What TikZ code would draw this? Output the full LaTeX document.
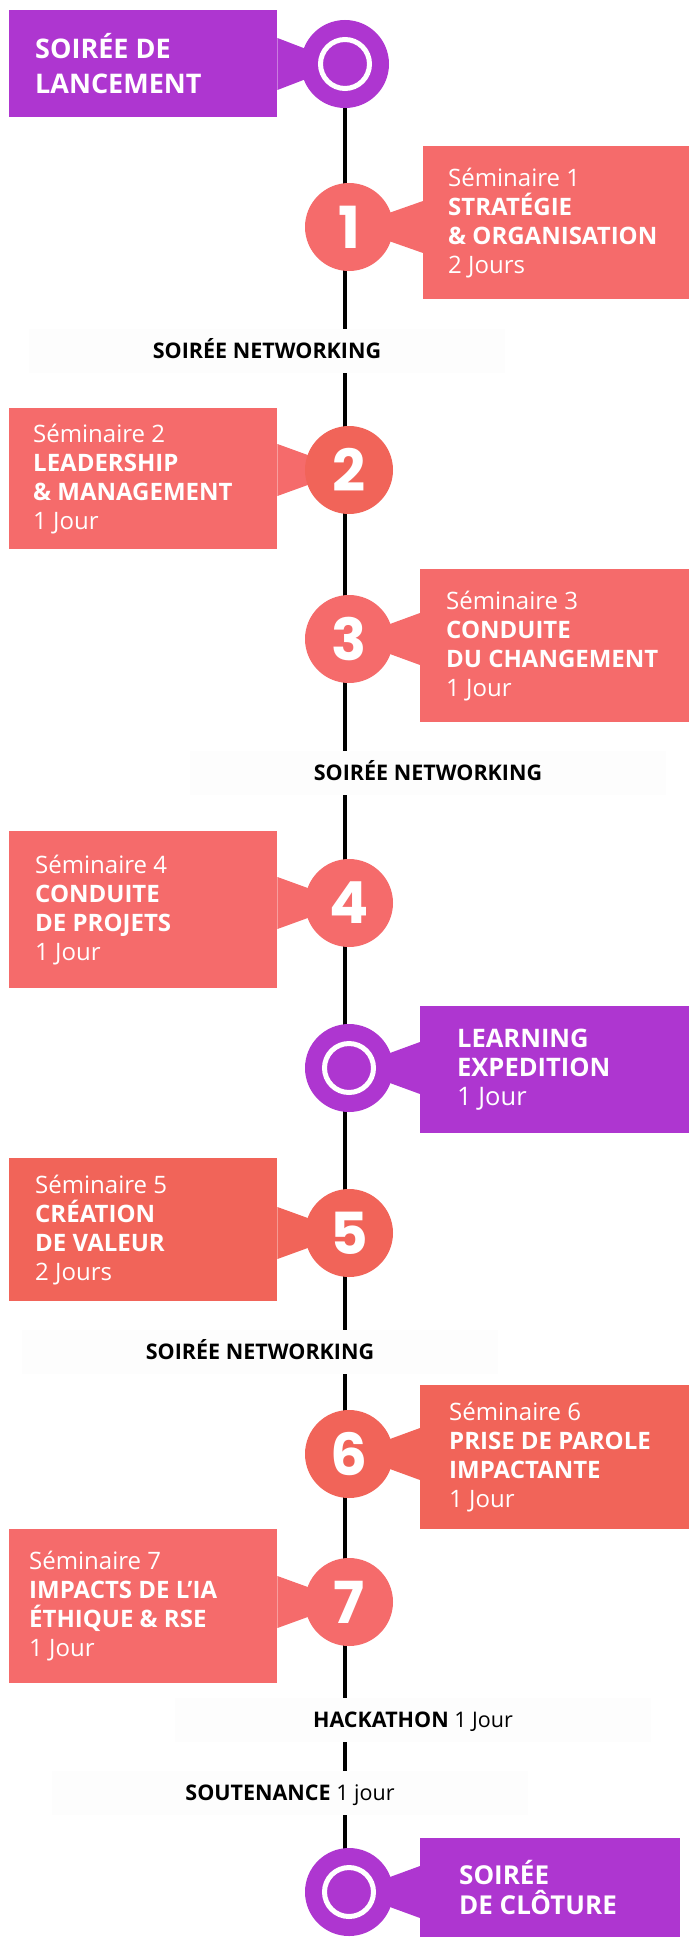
\documentclass[tikz,border=0pt]{standalone}
\usepackage{fontspec}
\setmainfont{Open Sans}
\newfontfamily\digitfont{Poppins}
\usetikzlibrary{calc}

\definecolor{evpurple}{RGB}{174,54,208}
\definecolor{evcoral}{RGB}{245,107,107}
\definecolor{evred}{RGB}{241,100,89}
\definecolor{stripgray}{RGB}{253,253,253}

\tikzset{
  evbox/.style={rectangle, inner sep=0pt, minimum width=268pt, anchor=north west},
  boxtext/.style={anchor=west, align=left, text=white, inner sep=0pt, font=\fontsize{24}{29}\selectfont},
  bigtext/.style={boxtext, font=\bfseries\fontsize{27}{35}\selectfont},
  numdot/.style={circle, minimum size=88pt, inner sep=0pt, text=white, font=\digitfont\bfseries\fontsize{58}{58}\selectfont},
  ringdot/.style={circle, minimum size=88pt, inner sep=0pt, fill=evpurple},
  ring/.style={draw=white, line width=5pt},
  strip/.style={fill=stripgray, minimum width=476pt, minimum height=44pt, inner sep=0pt, text height=15pt, text depth=0pt, font=\fontsize{21.5}{24}\selectfont},
  timeline/.style={line width=3.5pt, black},
}

% wedge from a box edge to the centre of a dot
\newcommand{\pointer}[3]{\fill[#3] ($(#1 |- #2)+(0,26)$) -- (#2) -- ($(#1 |- #2)+(0,-26)$) -- cycle;}

\begin{document}
\begin{tikzpicture}[x=1pt, y=-1pt]
    \useasboundingbox[fill=white] (0,0) rectangle (689,1937);

    % Draw the time line
    \coordinate (top) at (345,64);
    \coordinate (bottom) at (345,1892);
    \draw [timeline] (top) -- (bottom);

    % Soiree de lancement
    \coordinate (p0) at (345,64);
    \node [evbox, fill=evpurple, minimum height=107pt] (b0) at (9,10) {};
    \pointer{b0.east}{p0}{evpurple}
    \node [ringdot] (c0) at (p0) {};
    \draw [ring] (c0) circle (24.5pt);
    \node [bigtext] (t0) at ([xshift=26pt]b0.west) {SOIRÉE DE\\LANCEMENT};

    % Seminaire 1
    \coordinate (p1) at (349,227);
    \node [evbox, fill=evcoral, minimum width=266pt, minimum height=153pt] (b1) at (423,146) {};
    \pointer{b1.west}{p1}{evcoral}
    \node [numdot, fill=evcoral] (c1) at (p1) {1};
    \node [boxtext] (t1) at ([xshift=25pt]b1.west) {Séminaire 1\\\textbf{STRATÉGIE}\\\textbf{\& ORGANISATION}\\2 Jours};

    \node [strip] (n1) at (267,351) {\textbf{SOIRÉE NETWORKING}};

    % Seminaire 2
    \coordinate (p2) at (349,470);
    \node [evbox, fill=evcoral, minimum height=141pt] (b2) at (9,408) {};
    \pointer{b2.east}{p2}{evcoral}
    \node [numdot, fill=evred] (c2) at (p2) {2};
    \node [boxtext] (t2) at ([xshift=24pt]b2.west) {Séminaire 2\\\textbf{LEADERSHIP}\\\textbf{\& MANAGEMENT}\\1 Jour};

    % Seminaire 3
    \coordinate (p3) at (349,639);
    \node [evbox, fill=evcoral, minimum width=269pt, minimum height=153pt] (b3) at (420,569) {};
    \pointer{b3.west}{p3}{evcoral}
    \node [numdot, fill=evcoral] (c3) at (p3) {3};
    \node [boxtext] (t3) at ([xshift=26pt]b3.west) {Séminaire 3\\\textbf{CONDUITE}\\\textbf{DU CHANGEMENT}\\1 Jour};

    \node [strip] (n2) at (428,773) {\textbf{SOIRÉE NETWORKING}};

    % Seminaire 4
    \coordinate (p4) at (349,903);
    \node [evbox, fill=evcoral, minimum height=157pt] (b4) at (9,831) {};
    \pointer{b4.east}{p4}{evcoral}
    \node [numdot, fill=evcoral] (c4) at (p4) {4};
    \node [boxtext] (t4) at ([xshift=26pt]b4.west) {Séminaire 4\\\textbf{CONDUITE}\\\textbf{DE PROJETS}\\1 Jour};

    % Learning expedition
    \coordinate (ple) at (349,1068);
    \node [evbox, fill=evpurple, minimum width=269pt, minimum height=127pt] (ble) at (420,1006) {};
    \pointer{ble.west}{ple}{evpurple}
    \node [ringdot] (cle) at (ple) {};
    \draw [ring] (cle) circle (24.5pt);
    \node [boxtext, font=\fontsize{25.5}{29}\selectfont] (tle) at ([xshift=37pt]ble.west) {\textbf{LEARNING}\\\textbf{EXPEDITION}\\1 Jour};

    % Seminaire 5
    \coordinate (p5) at (349,1233);
    \node [evbox, fill=evred, minimum height=143pt] (b5) at (9,1158) {};
    \pointer{b5.east}{p5}{evred}
    \node [numdot, fill=evred] (c5) at (p5) {5};
    \node [boxtext] (t5) at ([xshift=26pt]b5.west) {Séminaire 5\\\textbf{CRÉATION}\\\textbf{DE VALEUR}\\2 Jours};

    \node [strip] (n3) at (260,1352) {\textbf{SOIRÉE NETWORKING}};

    % Seminaire 6
    \coordinate (p6) at (349,1454);
    \node [evbox, fill=evred, minimum width=269pt, minimum height=144pt] (b6) at (420,1385) {};
    \pointer{b6.west}{p6}{evred}
    \node [numdot, fill=evred] (c6) at (p6) {6};
    \node [boxtext] (t6) at ([xshift=29pt]b6.west) {Séminaire 6\\\textbf{PRISE DE PAROLE}\\\textbf{IMPACTANTE}\\1 Jour};

    % Seminaire 7
    \coordinate (p7) at (349,1602);
    \node [evbox, fill=evcoral, minimum height=154pt] (b7) at (9,1529) {};
    \pointer{b7.east}{p7}{evcoral}
    \node [numdot, fill=evcoral] (c7) at (p7) {7};
    \node [boxtext] (t7) at ([xshift=20pt]b7.west) {Séminaire 7\\\textbf{IMPACTS DE L’IA}\\\textbf{ÉTHIQUE \& RSE}\\1 Jour};

    \node [strip] (hack) at (413,1720) {\textbf{HACKATHON} 1 Jour};
    \node [strip] (sout) at (290,1793) {\textbf{SOUTENANCE} 1 jour};

    % Soiree de cloture
    \coordinate (pend) at (349,1892);
    \node [evbox, fill=evpurple, minimum width=260pt, minimum height=99pt] (bend) at (420,1838) {};
    \pointer{bend.west}{pend}{evpurple}
    \node [ringdot] (cend) at (pend) {};
    \draw [ring] (cend) circle (24.5pt);
    \node [boxtext, font=\bfseries\fontsize{26}{30}\selectfont] (tend) at ([xshift=39pt]bend.west) {SOIRÉE\\DE CLÔTURE};
\end{tikzpicture}
\end{document}
